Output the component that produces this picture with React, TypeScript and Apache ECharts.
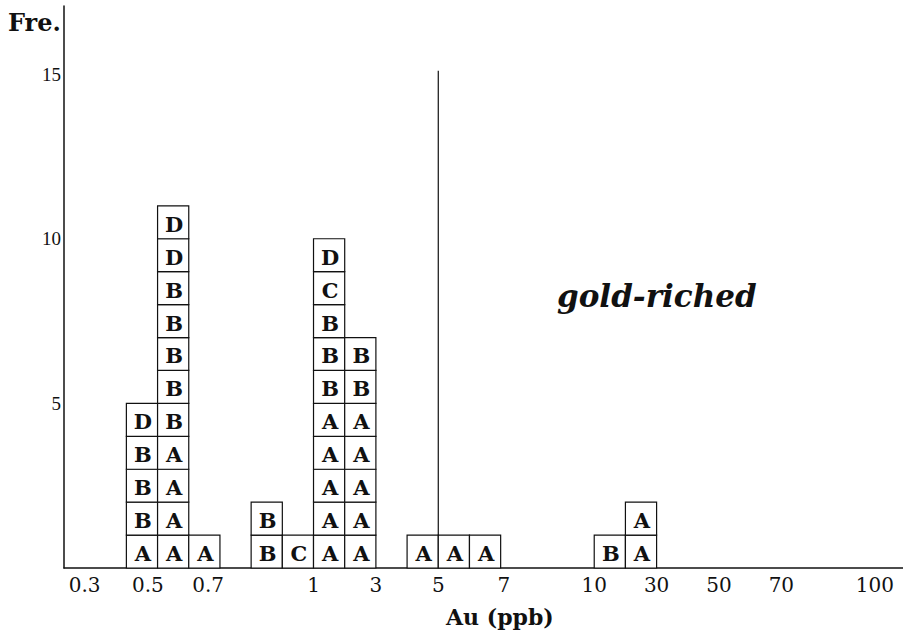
import React, { useEffect, useRef } from "react";
import * as echarts from "echarts";

// Column index (in box-width units from the y axis) of each stack, and the letters stacked bottom-up
const columnPositions = [2, 3, 4, 6, 7, 8, 9, 11, 12, 13, 17, 18];
const columnStacks = ["ABBBD", "AAAABBBBBDD", "A", "BB", "C", "AAAAABBBCD", "AAAAABB", "A", "A", "A", "B", "AA"];

// Tick labels of the Au (ppb) axis and their positions in column units
const tickLabels = ["0.3", "0.5", "0.7", "1", "3", "5", "7", "10", "30", "50", "70", "100"];
const tickPositions = [0.66, 2.69, 4.62, 8, 10, 12, 14.1, 17, 19, 21, 23, 26];

const yTickLabels = [5, 10, 15];

// Vertical threshold line at Au = 5 ppb
const thresholdLine = [
  [12, 0],
  [12, 15.1],
];

const SERIF = '"DejaVu Serif", "Liberation Serif", serif';

export default function App() {
  const ref = useRef<HTMLDivElement>(null);

  useEffect(() => {
    if (!ref.current) return;
    const chart = echarts.init(ref.current, null, { renderer: "svg" });

    const boxes: number[][] = [];
    const letters: string[] = [];
    columnPositions.forEach((c, i) => {
      columnStacks[i].split("").forEach((l, r) => {
        boxes.push([c, r]);
        letters.push(l);
      });
    });

    const option: any = {
      animation: false,
      backgroundColor: "#ffffff",
      grid: { left: 64, right: 0, top: 6, bottom: 68 },
      xAxis: {
        type: "value",
        min: 0,
        max: 26.9,
        axisLine: { show: true, lineStyle: { color: "#111", width: 1.5 } },
        axisTick: { show: false },
        splitLine: { show: false },
        axisLabel: {
          customValues: tickPositions,
          margin: 7,
          color: "#111",
          fontFamily: SERIF,
          fontSize: 20,
          formatter: (v: number) => {
            let best = 0;
            tickPositions.forEach((p, i) => {
              if (Math.abs(p - v) < Math.abs(tickPositions[best] - v)) best = i;
            });
            return tickLabels[best];
          },
        },
      },
      yAxis: {
        type: "value",
        min: 0,
        max: 17.07,
        interval: 5,
        axisLine: { show: true, lineStyle: { color: "#111", width: 1.5 } },
        axisTick: { show: false },
        splitLine: { show: false },
        axisLabel: {
          margin: 3,
          color: "#111",
          fontFamily: '"Liberation Serif", serif',
          fontSize: 19,
          formatter: (v: number) => (yTickLabels.includes(v) ? String(v) : ""),
        },
      },
      series: [
        {
          type: "line",
          data: thresholdLine,
          symbol: "none",
          lineStyle: { color: "#111", width: 1.2 },
          silent: true,
          z: 1,
        },
        {
          type: "custom",
          data: boxes,
          encode: { x: 0, y: 1 },
          clip: false,
          z: 3,
          renderItem: (params: any, api: any) => {
            const x = api.value(0);
            const r = api.value(1);
            const p0 = api.coord([x, r]);
            const p1 = api.coord([x + 1, r + 1]);
            return {
              type: "group",
              children: [
                {
                  type: "rect",
                  shape: { x: p0[0], y: p1[1], width: p1[0] - p0[0], height: p0[1] - p1[1] },
                  style: { fill: "#fff", stroke: "#111", lineWidth: 1.2 },
                },
                {
                  type: "text",
                  style: {
                    text: letters[params.dataIndex],
                    x: (p0[0] + p1[0]) / 2 + 1,
                    y: (p0[1] + p1[1]) / 2 + 2,
                    align: "center",
                    verticalAlign: "middle",
                    fontFamily: SERIF,
                    fontSize: 21,
                    fontWeight: "bold",
                    fill: "#111",
                  },
                },
              ],
            };
          },
        },
      ],
      graphic: [
        {
          type: "text",
          left: 8,
          top: 10,
          style: { text: "Fre.", fontFamily: SERIF, fontSize: 24, fontWeight: "bold", fill: "#111" },
        },
        {
          type: "text",
          left: 446,
          top: 606,
          style: { text: "Au (ppb)", fontFamily: SERIF, fontSize: 22, fontWeight: "bold", fill: "#111" },
        },
        {
          type: "text",
          left: 557,
          top: 280,
          style: {
            text: "gold-riched",
            fontFamily: SERIF,
            fontSize: 31,
            fontWeight: "bold",
            fontStyle: "italic",
            fill: "#111",
          },
        },
      ],
    };

    chart.setOption(option);
    return () => chart.dispose();
  }, []);

  return (
    <div
      ref={ref}
      style={{ position: "fixed", left: 0, top: 0, width: 903, height: 636, background: "#fff" }}
    />
  );
}
